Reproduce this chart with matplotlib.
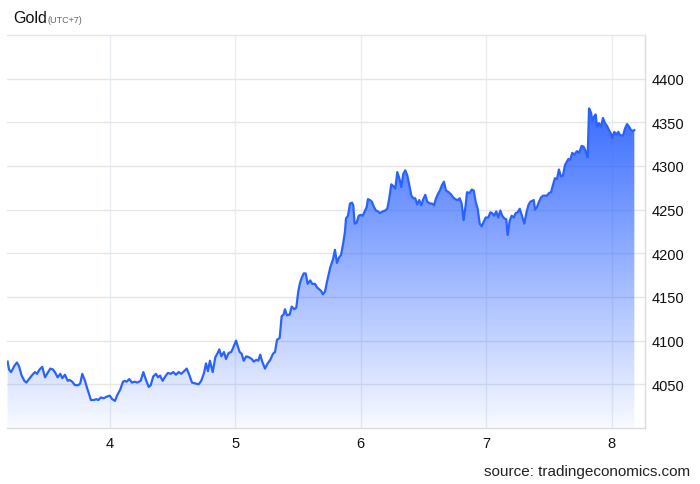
import numpy as np
import matplotlib
matplotlib.use('Agg')
import matplotlib.pyplot as plt
from matplotlib.colors import LinearSegmentedColormap

# gold price, x = day of month (UTC+7)
days = [3.184, 3.195, 3.211, 3.227, 3.237, 3.258, 3.274, 3.296, 3.317, 3.333,
        3.349, 3.376, 3.402, 3.418, 3.439, 3.460, 3.482, 3.503, 3.524, 3.545,
        3.561, 3.583, 3.604, 3.620, 3.641, 3.663, 3.679, 3.699, 3.721, 3.747,
        3.763, 3.779, 3.801, 3.817, 3.833, 3.848, 3.870, 3.891, 3.907, 3.928,
        3.950, 3.976, 3.998, 4.018, 4.040, 4.056, 4.082, 4.104,
        4.117, 4.133, 4.154, 4.175, 4.197, 4.218, 4.245, 4.266, 4.287, 4.309,
        4.325, 4.345, 4.367, 4.383, 4.399, 4.420, 4.441, 4.462, 4.484, 4.505,
        4.526, 4.548, 4.569, 4.590, 4.612, 4.632, 4.654, 4.680, 4.707, 4.728,
        4.750, 4.766, 4.781, 4.797, 4.819, 4.840, 4.856, 4.872, 4.888, 4.909,
        4.925, 4.947, 4.967, 4.983, 5.005,
        5.018, 5.034, 5.050, 5.066, 5.087, 5.108, 5.130, 5.146, 5.167, 5.183,
        5.198, 5.214, 5.236, 5.258, 5.278, 5.300, 5.316, 5.332, 5.353, 5.369,
        5.385, 5.395, 5.411, 5.433, 5.449, 5.470, 5.486, 5.502, 5.517, 5.529,
        5.545, 5.561, 5.576, 5.597, 5.613, 5.635, 5.651, 5.667, 5.683, 5.698,
        5.714, 5.736, 5.757, 5.778, 5.794, 5.810, 5.826, 5.842, 5.858, 5.874,
        5.882, 5.898, 5.914, 5.930, 5.940, 5.951, 5.967, 5.983, 5.999, 6.015,
        6.031, 6.047, 6.057, 6.073, 6.089, 6.105, 6.121, 6.137, 6.153, 6.175,
        6.195, 6.211, 6.227, 6.243, 6.259, 6.275, 6.291, 6.307, 6.323, 6.339,
        6.355, 6.371, 6.387, 6.403, 6.419, 6.434, 6.450, 6.466, 6.482, 6.498,
        6.514, 6.530, 6.552, 6.568, 6.584, 6.600, 6.615, 6.631, 6.647, 6.663,
        6.679, 6.701, 6.722, 6.737, 6.753, 6.773, 6.789, 6.804, 6.820, 6.836,
        6.847, 6.868, 6.884, 6.900, 6.916, 6.932, 6.948, 6.964, 6.980, 6.996,
        7.017, 7.033, 7.048, 7.064, 7.080, 7.096, 7.112, 7.128, 7.144, 7.160,
        7.171, 7.187, 7.203, 7.219, 7.235, 7.251, 7.267, 7.283, 7.304, 7.320,
        7.336, 7.351, 7.367, 7.379, 7.389, 7.405, 7.421, 7.437, 7.453, 7.469,
        7.485, 7.501, 7.517, 7.532, 7.548, 7.564, 7.580, 7.596, 7.612, 7.628,
        7.655, 7.670, 7.686, 7.702, 7.724, 7.740, 7.761, 7.777, 7.793, 7.809,
        7.820, 7.836, 7.846, 7.862, 7.873, 7.883, 7.899, 7.915, 7.931, 7.947,
        7.963, 7.979, 7.995, 8.005, 8.021, 8.037, 8.053, 8.069, 8.091, 8.107,
        8.123, 8.139, 8.155, 8.170, 8.181]

prices = [4076, 4067, 4064, 4068, 4071, 4075, 4071, 4060, 4054, 4052,
          4055, 4060, 4064, 4062, 4067, 4070, 4058, 4063, 4068, 4067,
          4064, 4058, 4062, 4057, 4061, 4054, 4055, 4053, 4049, 4049,
          4051, 4062, 4054, 4046, 4039, 4032, 4032, 4033, 4032, 4035,
          4034, 4036, 4037, 4033, 4031, 4037, 4044, 4053,
          4054, 4053, 4056, 4052, 4053, 4052, 4054, 4064, 4055, 4047,
          4049, 4059, 4062, 4058, 4060, 4054, 4059, 4063, 4062, 4064,
          4061, 4064, 4062, 4065, 4068, 4061, 4052, 4051, 4050, 4054,
          4063, 4074, 4065, 4077, 4064, 4081, 4085, 4090, 4082, 4087,
          4079, 4086, 4087, 4092, 4100,
          4094, 4087, 4085, 4077, 4082, 4081, 4079, 4076, 4078, 4077,
          4084, 4076, 4068, 4074, 4078, 4085, 4087, 4101, 4103, 4128,
          4130, 4136, 4129, 4130, 4139, 4136, 4138, 4157, 4167, 4172,
          4177, 4177, 4165, 4169, 4165, 4165, 4161, 4159, 4157, 4153,
          4156, 4171, 4184, 4193, 4204, 4189, 4195, 4198, 4210, 4225,
          4240, 4243, 4257, 4258, 4255, 4234, 4235, 4243, 4244, 4243,
          4248, 4253, 4262, 4261, 4259, 4253, 4249, 4248, 4246, 4248,
          4249, 4251, 4263, 4279, 4277, 4274, 4293, 4286, 4276, 4291,
          4295, 4289, 4278, 4266, 4263, 4263, 4256, 4261, 4255, 4262,
          4267, 4259, 4257, 4257, 4255, 4263, 4268, 4272, 4278, 4282,
          4272, 4270, 4267, 4264, 4262, 4261, 4263, 4257, 4238, 4255,
          4270, 4269, 4273, 4272, 4259, 4251, 4234, 4231, 4236, 4241,
          4241, 4247, 4246, 4243, 4248, 4241, 4249, 4243, 4240, 4239,
          4221, 4237, 4243, 4241, 4246, 4247, 4251, 4244, 4234, 4246,
          4255, 4259, 4260, 4261, 4250, 4253, 4259, 4264, 4266, 4266,
          4266, 4269, 4270, 4278, 4286, 4285, 4296, 4288, 4289, 4301,
          4308, 4307, 4315, 4313, 4317, 4315, 4323, 4322, 4317, 4310,
          4366, 4361, 4352, 4357, 4359, 4345, 4349, 4345, 4355, 4349,
          4346, 4341, 4337, 4332, 4339, 4336, 4339, 4335, 4335, 4343,
          4348, 4345, 4341, 4340, 4341]

x_ticks = [4, 5, 6, 7, 8]
y_ticks = [4050, 4100, 4150, 4200, 4250, 4300, 4350, 4400]

line_color = '#2962ff'
font = ['Liberation Sans', 'DejaVu Sans']
plt.rcParams['font.family'] = font

fig = plt.figure(figsize=(7, 4.85), dpi=100)
ax = fig.add_axes([0.01, 0.1155, 0.9114, 0.8103])
ax.set_axisbelow(True)

xmin, xmax = 3.179, 8.266
ymin, ymax = 4000, 4450
ax.set_xlim(xmin, xmax)
ax.set_ylim(ymin, ymax)

# gradient area under the line
poly = ax.fill_between(days, prices, ymin, color='none', lw=0)
cmap = LinearSegmentedColormap.from_list(
    'gold_grad', [(0.16, 0.38, 1.0, 0.03), (0.16, 0.38, 1.0, 0.92)])
grad = np.linspace(0, 1, 256).reshape(-1, 1)
img = ax.imshow(grad, extent=[xmin, xmax, ymin, max(prices)], aspect='auto',
                cmap=cmap, origin='lower', zorder=1)
img.set_clip_path(poly.get_paths()[0], transform=ax.transData)

ax.plot(days, prices, color=line_color, lw=1.6, zorder=3, solid_joinstyle='round')

ax.set_xticks(x_ticks)
ax.set_xticklabels([str(d) for d in x_ticks])
ax.set_yticks(y_ticks)
ax.yaxis.tick_right()
ax.tick_params(axis='both', length=0, labelsize=10.5, colors='#111111')
ax.tick_params(axis='y', pad=5)
ax.tick_params(axis='x', pad=6)

ax.grid(axis='y', color='#e6e6e6', lw=1)
ax.grid(axis='x', color='#e8eef4', lw=1)

ax.spines['left'].set_visible(False)
ax.spines['top'].set_color('#e6e6e6')
ax.spines['bottom'].set_color('#dcdcdc')
ax.spines['right'].set_color('#dcdcdc')
for s in ax.spines.values():
    s.set_linewidth(1)

fig.text(13/700, 1 - 23/485, 'Gold', fontsize=11.5, color='#111111', va='baseline')
fig.text(48/700, 1 - 23/485, '(UTC+7)', fontsize=6.5, color='#666666', va='baseline')
fig.text(690/700, 1 - 472/485, 'source: tradingeconomics.com', fontsize=11,
         color='#222222', ha='right', va='center')

fig.savefig('out.png', dpi=100)
